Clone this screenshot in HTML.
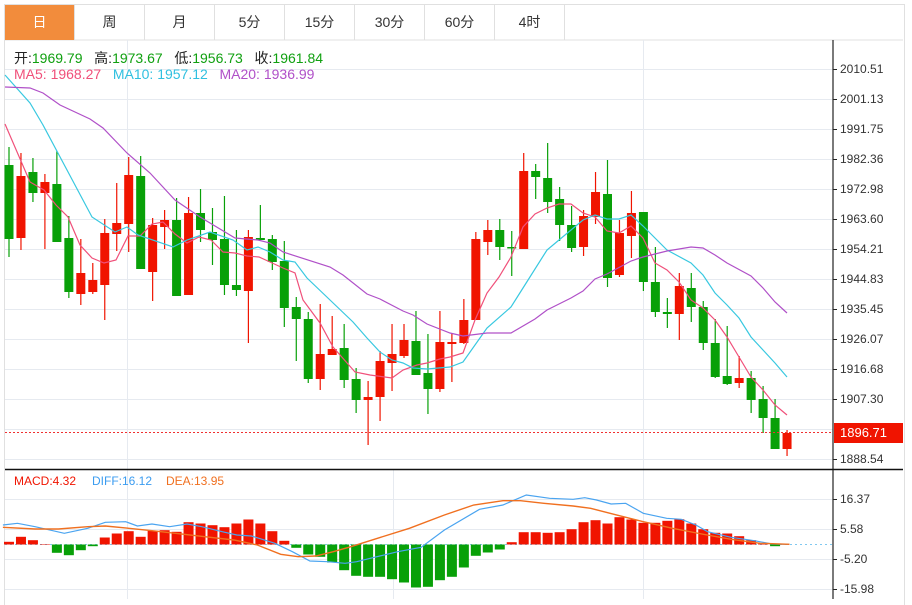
<!DOCTYPE html>
<html><head><meta charset="utf-8">
<style>
body{margin:0;background:#fff;width:912px;height:599px;overflow:hidden;font-family:"Liberation Sans","Noto Sans CJK SC",sans-serif;}
#wrap{position:absolute;left:4px;top:4px;width:899px;height:600px;border:1px solid #e0e0e0;border-bottom:none;}
.tab{position:absolute;top:5px;height:35px;line-height:35px;text-align:center;font-size:14px;color:#333;border-right:1px solid #e0e0e0;box-sizing:border-box;}
.t{position:absolute;font-size:14px;white-space:nowrap;}
</style></head><body>
<div id="wrap"></div>
<svg id="s" width="912" height="599" style="position:absolute;left:0;top:0">
<line x1="5" y1="40" x2="903" y2="40" stroke="#e0e0e0"/>
<g id="grid"></g>
<g id="macd"></g>
<g id="c"></g>
<line x1="833" y1="40" x2="833" y2="599" stroke="#222" stroke-width="1.2"/>
<line x1="5" y1="469.5" x2="903" y2="469.5" stroke="#111" stroke-width="1.5"/>
<line x1="5" y1="432.5" x2="833" y2="432.5" stroke="#f03030" stroke-dasharray="2,2"/>
<rect x="834" y="423" width="69" height="20" fill="#f01400"/>
<g font-size="12" fill="#333" font-family="Liberation Sans, sans-serif">
<text x="840" y="73">2010.51</text><text x="840" y="103">2001.13</text><text x="840" y="133">1991.75</text><text x="840" y="163">1982.36</text><text x="840" y="193">1972.98</text><text x="840" y="223">1963.60</text><text x="840" y="253">1954.21</text><text x="840" y="283">1944.83</text><text x="840" y="313">1935.45</text><text x="840" y="343">1926.07</text><text x="840" y="373">1916.68</text><text x="840" y="403">1907.30</text><text x="840" y="463">1888.54</text>
<text x="840" y="437" fill="#fff" font-size="13">1896.71</text>
<text x="840" y="503">16.37</text><text x="840" y="533">5.58</text><text x="840" y="563">-5.20</text><text x="840" y="593">-15.98</text>
</g>
<g font-size="12" font-family="Liberation Sans, sans-serif">
<text x="14" y="485" fill="#f01400">MACD:4.32</text><text x="92" y="485" fill="#3b9cf0">DIFF:16.12</text><text x="166" y="485" fill="#f07020">DEA:13.95</text>
</g>
</svg>
<div class="tab" style="left:5px;width:70px;background:#f28c3c;color:#fff">日</div>
<div class="tab" style="left:75px;width:70px">周</div>
<div class="tab" style="left:145px;width:70px">月</div>
<div class="tab" style="left:215px;width:70px">5分</div>
<div class="tab" style="left:285px;width:70px">15分</div>
<div class="tab" style="left:355px;width:70px">30分</div>
<div class="tab" style="left:425px;width:70px">60分</div>
<div class="tab" style="left:495px;width:70px">4时</div>
<div class="t" style="left:14px;top:48px"><span style="color:#222">开:</span><span style="color:#10a010">1969.79</span>&nbsp;&nbsp;&nbsp;<span style="color:#222">高:</span><span style="color:#10a010">1973.67</span>&nbsp;&nbsp;&nbsp;<span style="color:#222">低:</span><span style="color:#10a010">1956.73</span>&nbsp;&nbsp;&nbsp;<span style="color:#222">收:</span><span style="color:#10a010">1961.84</span></div>
<div class="t" style="left:14px;top:66px"><span style="color:#f0507a">MA5: 1968.27</span>&nbsp;&nbsp;&nbsp;<span style="color:#30c0e0">MA10: 1957.12</span>&nbsp;&nbsp;&nbsp;<span style="color:#b050c8">MA20: 1936.99</span></div>
<script>
var NS="http://www.w3.org/2000/svg";
function el(p,t,a){var e=document.createElementNS(NS,t);for(var k in a)e.setAttribute(k,a[k]);p.appendChild(e);return e;}
var g=document.getElementById('grid');
for(var y=69;y<=459;y+=30)el(g,'line',{x1:5,y1:y+.5,x2:833,y2:y+.5,stroke:'#e6eaf0'});
[499,529,559,589].forEach(function(y){el(g,'line',{x1:5,y1:y+.5,x2:833,y2:y+.5,stroke:'#e6eaf0'});});
[127.5,643.5].forEach(function(x){el(g,'line',{x1:x,y1:40,x2:x,y2:469,stroke:'#e6eaf0'});});
[127.5,393.5,643.5].forEach(function(x){el(g,'line',{x1:x,y1:470,x2:x,y2:599,stroke:'#e6eaf0'});});
for(var y=69;y<=459;y+=30)if(y!=429)el(g,'line',{x1:833,y1:y+.5,x2:837,y2:y+.5,stroke:'#222'});
[499,529,559,589].forEach(function(y){el(g,'line',{x1:833,y1:y+.5,x2:837,y2:y+.5,stroke:'#222'});});
var C=[
['g',165,239,147,257],['r',176,238,153,250],['g',172,193,158,202],['r',182,193,174,249],['g',184,242,151,242],
['g',238,292,216,298],['r',273,294,239,305],['r',280,292,263,294],['r',233,285,219,320],['r',223,234,183,251],
['r',175,224,157,252],['g',176,269,156,269],['r',225,272,218,301],['r',220,227,210,249],['g',220,296,198,296],
['r',213,295,197,295],['g',213,230,189,242],['g',232,240,208,265],['g',239,285,196,295],['g',285,290,230,296],
['r',237,291,230,343],['g',238,240,205,240],['g',239,262,235,270],['g',261,308,241,327],['g',307,319,297,361],
['g',319,379,312,383],['r',354,379,304,390],['r',349,355,316,355],['g',348,380,324,388],['g',379,400,368,413],
['r',397,400,381,445],['r',361,397,351,421],['r',354,363,324,391],['r',340,356,324,358],['g',341,375,311,375],
['g',373,389,334,414],['r',342,389,311,392],['r',342,344,333,382],['r',320,343,299,344],['r',239,320,232,320],
['r',230,242,220,255],['g',230,247,219,260],['g',247,248,231,276],['r',171,249,153,249],['g',171,177,164,199],
['g',178,202,143,213],['g',199,225,187,241],['g',225,248,206,252],['r',216,247,210,256],['r',192,217,172,224],
['g',194,278,160,287],['r',233,275,220,277],['r',213,236,191,258],['g',212,282,212,291],['g',282,312,247,317],
['g',312,314,298,328],['r',286,314,273,340],['g',288,307,273,322],['g',307,343,301,350],['g',343,377,319,378],
['g',376,384,326,385],['r',378,383,356,388],['g',378,400,371,413],['g',399,418,386,433],['g',418,449,399,449],
['r',433,449,430,456]];
var cg=document.getElementById('c');
function X(k){return 9+11.97*k;}
var col={r:'#f01400',g:'#08a008'};
C.forEach(function(d,k){var x=X(k);
el(cg,'line',{x1:x,y1:d[3],x2:x,y2:d[4],stroke:col[d[0]],'stroke-width':1.2});
el(cg,'rect',{x:x-4.5,y:d[1],width:9,height:Math.max(d[2]-d[1],1.5),fill:col[d[0]]});});
function pl(p,pts,c,w){el(p,'polyline',{points:pts.map(function(a){return a.join(',')}).join(' '),fill:'none',stroke:c,'stroke-width':w||1.2});}
pl(cg,[[5,124],[30,182],[44,190],[56,205],[68,217],[80,245],[92,258],[104,263],[116,260],[128,236],[140,236],[152,224],[163,222],[175,234],[187,243],[199,237],[211,240],[223,252],[235,253],[247,256],[259,257],[270,262],[283,268],[295,273],[303,300],[320,323],[333,347],[355,372],[370,375],[392,378],[403,370],[417,365],[427,363],[440,359],[450,357],[463,353],[475,320],[487,293],[499,277],[511,257],[523,227],[535,214],[547,208],[559,204],[571,204],[583,213],[595,217],[607,231],[619,233],[631,226],[643,238],[655,263],[667,270],[679,282],[691,300],[703,308],[715,320],[727,337],[739,357],[751,377],[763,390],[775,405],[787,415]],'#f0507a');
pl(cg,[[5,75],[30,103],[43,125],[67,170],[92,217],[115,232],[127,227],[138,235],[173,247],[187,240],[210,232],[233,240],[247,250],[258,247],[270,252],[283,260],[295,262],[307,278],[330,300],[353,322],[367,338],[380,352],[392,360],[403,363],[413,368],[427,369],[450,367],[463,362],[487,328],[511,307],[523,288],[547,250],[559,240],[583,220],[595,215],[607,219],[619,219],[631,215],[643,226],[667,250],[691,263],[703,275],[715,293],[727,305],[739,318],[751,337],[763,350],[775,363],[787,377]],'#38c8e0');
pl(cg,[[5,87],[30,88],[43,93],[60,105],[90,119],[103,128],[127,153],[150,173],[175,200],[200,217],[235,238],[258,240],[270,243],[283,252],[330,267],[343,275],[367,294],[380,299],[403,311],[413,315],[427,324],[450,333],[463,336],[487,333],[511,333],[535,319],[547,310],[571,298],[583,291],[595,279],[607,274],[631,261],[643,257],[655,254],[667,251],[691,247],[703,248],[715,255],[727,263],[751,276],[763,288],[775,302],[787,313]],'#b050c8');
var M=[2.7,7.7,4.3,0.5,-8.3,-10.7,-5.7,-1.7,7,11,13.3,7.7,13.7,14.3,12.7,22.3,21,19.3,17.3,21,25,21,13.3,3.7,-3.3,-10,-12.3,-18,-25.7,-31.3,-32.3,-32.3,-34.7,-38,-43,-42.3,-35.7,-32.3,-23,-11.3,-8,-5,2.3,12.3,12.3,11.7,12.3,15.3,22.3,24.3,21,27.3,25,21.7,21.7,23.7,25.3,21,15.3,11.7,11,8.3,4.3,1,-1.7,0];
var mg=document.getElementById('macd');var Z=544.5;
el(mg,'line',{x1:5,y1:Z,x2:833,y2:Z,stroke:'#80c8f0','stroke-dasharray':'2,3'});
M.forEach(function(v,k){var x=X(k);if(v==0)return;
el(mg,'rect',{x:x-5,y:v>0?Z-v:Z,width:10,height:Math.abs(v),fill:v>0?'#f01400':'#08a008'});});
function m(a){return a.map(function(p){return [ (p[0]/1.71).toFixed(1),(460+p[1]/3).toFixed(1)];});}
pl(mg,m([[5,195],[30,190],[60,200],[110,220],[150,205],[180,187],[215,185],[235,198],[260,192],[290,200],[320,192],[345,200],[380,215],[405,225],[430,228],[470,250],[500,275],[530,303],[560,305],[590,310],[610,305],[640,292],[680,275],[720,262],[760,210],[820,148],[860,135],[900,105],[940,115],[980,118],[1000,113],[1020,120],[1045,132],[1070,130],[1100,160],[1140,175],[1165,178],[1190,195],[1210,215],[1250,232],[1290,242],[1320,252],[1350,253]]),'#4aa4f0');
pl(mg,m([[5,202],[60,207],[100,207],[150,200],[180,198],[220,205],[260,212],[300,220],[350,230],[400,240],[440,255],[480,283],[510,290],[540,288],[570,275],[600,260],[640,238],[700,205],[760,165],[810,135],[860,122],[890,122],[930,130],[980,138],[1010,145],[1050,163],[1100,185],[1150,205],[1200,222],[1250,238],[1300,250],[1350,253]]),'#f07020',1.4);
</script>
</body></html>
